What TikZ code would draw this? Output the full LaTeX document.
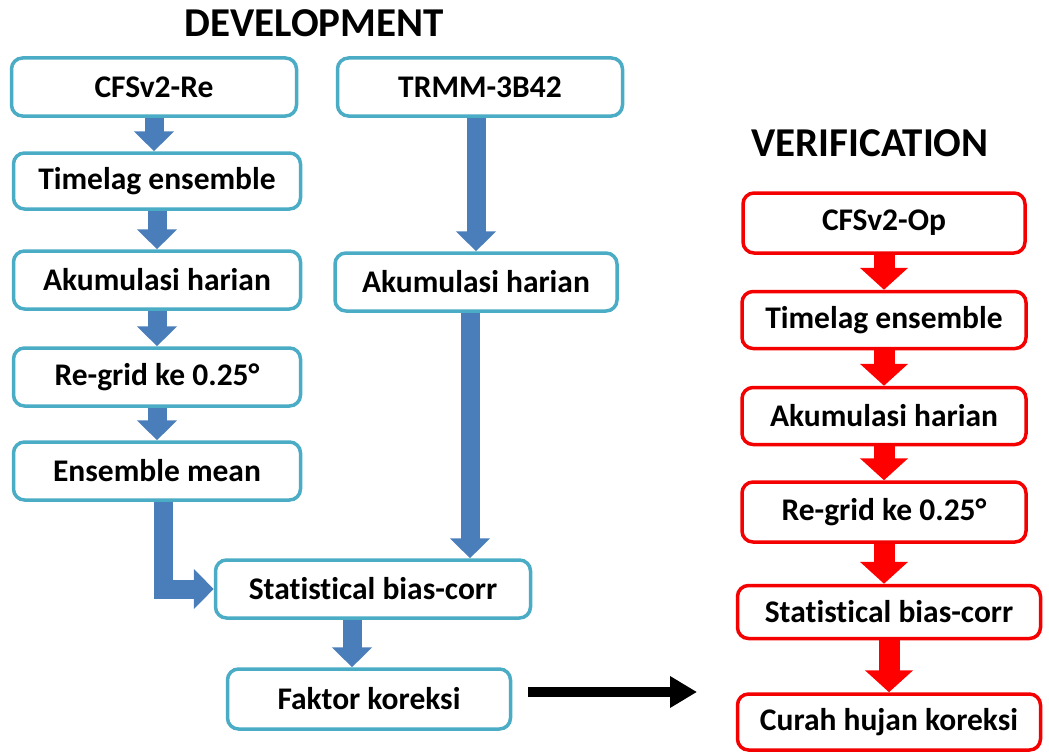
\documentclass[tikz,border=0pt]{standalone}
\usepackage{fontspec}
\setmainfont{Carlito}[Ligatures=NoCommon]
\usetikzlibrary{arrows.meta,calc}

\definecolor{boxblue}{RGB}{75,172,198}
\definecolor{flowblue}{RGB}{74,126,187}
\definecolor{boxred}{RGB}{245,0,0}

\begin{document}
\begin{tikzpicture}[x=1pt,y=-1pt]
	\tikzstyle{dev}=[draw=boxblue, line width=3.5pt, rounded corners=11pt, fill=white, minimum height=58pt, font=\fontsize{31.5}{33}\selectfont\bfseries]
	\tikzstyle{ver}=[dev, draw=boxred]
	\tikzstyle{title}=[font=\fontsize{41}{45}\selectfont\bfseries]
	\tikzstyle{bluearrow}=[draw=flowblue, line width=19pt, line join=miter, -{Triangle[width=39pt,length=20pt]}]
	\tikzstyle{redarrow}=[draw=red, line width=21pt, -{Triangle[width=47pt,length=22pt]}]
	\useasboundingbox (0,0) rectangle (1049,752);

	\node[title] (devtitle) at (314,23) {DEVELOPMENT};
	\node[title] (vertitle) at (870,143) {VERIFICATION};

	% development: model side and observation side
	\node[dev, minimum width=285pt] (cfsre) at (154,87) {CFSv2-Re};
	\node[dev, minimum width=287pt, minimum height=56pt] (tlre) at (157,181) {Timelag ensemble};
	\node[dev, minimum width=287pt] (akre) at (157,280) {Akumulasi harian};
	\node[dev, minimum width=287pt] (rgre) at (157,377) {Re-grid ke 0.25°};
	\node[dev, minimum width=287pt] (emre) at (157,471) {Ensemble mean};
	\node[dev, minimum width=285pt] (trmm) at (480,87) {TRMM-3B42};
	\node[dev, minimum width=282pt] (aktr) at (476,282) {Akumulasi harian};
	\node[dev, minimum width=315pt] (bias) at (373,589) {Statistical bias-corr};
	\node[dev, minimum width=283pt, minimum height=60pt] (faktor) at (369,699) {Faktor koreksi};

	% verification chain
	\node[ver, minimum width=282pt, minimum height=60pt] (cfsop) at (884,223) {CFSv2-Op};
	\node[ver, minimum width=284pt, minimum height=57pt] (tlop) at (884,320) {Timelag ensemble};
	\node[ver, minimum width=284pt, minimum height=57pt] (akop) at (884,416) {Akumulasi harian};
	\node[ver, minimum width=284pt, minimum height=60pt] (rgop) at (884,512) {Re-grid ke 0.25°};
	\node[ver, minimum width=303pt, minimum height=53pt] (biasop) at (889,612) {Statistical bias-corr};
	\node[ver, minimum width=303pt, minimum height=56pt] (curah) at (889,722) {Curah hujan koreksi};

	\draw[bluearrow] (cfsre.south) -- (cfsre.south |- tlre.north);
	\foreach \a/\b in {tlre/akre, akre/rgre, rgre/emre}
		\draw[bluearrow] (\a.south) -- (\b.north);
	\draw[bluearrow] (trmm.south -| aktr.north) -- (aktr.north);
	\draw[bluearrow] ([xshift=-6pt]aktr.south) -- ([xshift=-6pt]aktr.south |- bias.north);
	\draw[bluearrow] ([xshift=6pt]emre.south) |- (bias.west);
	\draw[bluearrow] ([xshift=-21pt]bias.south) -- ([xshift=-21pt]bias.south |- faktor.north);

	\foreach \a/\b in {cfsop/tlop, tlop/akop, akop/rgop, rgop/biasop, biasop/curah}
		\draw[redarrow] (\a.south) -- (\a.south |- \b.north);

	% correction factor handed to the verification chain
	\coordinate (apply) at (697,692);
	\draw[line width=10pt, shorten <=16pt, -{Triangle[width=30pt,length=27pt]}] (faktor.east |- apply) -- (apply);
\end{tikzpicture}
\end{document}
